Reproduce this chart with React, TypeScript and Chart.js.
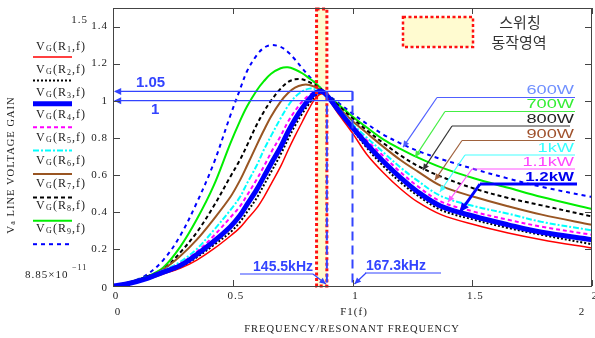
import React, { useEffect, useRef } from 'react';
import { Chart, registerables } from 'chart.js';
Chart.register(...registerables);

// ---------- data ----------
const xRatio = [0, 0.07, 0.14, 0.21, 0.28, 0.35, 0.42, 0.49, 0.53, 0.56, 0.6, 0.63, 0.66, 0.7, 0.73, 0.76, 0.79, 0.82, 0.85, 0.88, 0.94, 1.0, 1.06, 1.13, 1.2, 1.27, 1.37, 1.51, 1.65, 1.79, 2.0];
const gainR1 = [0, 0.015, 0.035, 0.065, 0.095, 0.14, 0.2, 0.27, 0.315, 0.36, 0.42, 0.48, 0.55, 0.645, 0.73, 0.81, 0.885, 0.96, 1.02, 1.035, 0.93, 0.825, 0.71, 0.61, 0.525, 0.455, 0.385, 0.33, 0.286, 0.25, 0.205];
const gainR2 = [0, 0.015, 0.04, 0.07, 0.1, 0.155, 0.22, 0.29, 0.345, 0.4, 0.475, 0.545, 0.615, 0.71, 0.79, 0.865, 0.93, 0.985, 1.03, 1.04, 0.945, 0.845, 0.745, 0.645, 0.56, 0.49, 0.41, 0.357, 0.313, 0.276, 0.225];
const gainR3 = [0, 0.015, 0.04, 0.075, 0.11, 0.17, 0.24, 0.32, 0.38, 0.44, 0.52, 0.59, 0.66, 0.75, 0.83, 0.9, 0.96, 1.01, 1.045, 1.045, 0.95, 0.855, 0.765, 0.67, 0.585, 0.51, 0.43, 0.375, 0.33, 0.29, 0.25];
const gainR4 = [0, 0.015, 0.04, 0.08, 0.12, 0.185, 0.27, 0.37, 0.43, 0.49, 0.575, 0.645, 0.72, 0.81, 0.885, 0.945, 0.995, 1.03, 1.05, 1.045, 0.955, 0.865, 0.785, 0.7, 0.615, 0.54, 0.455, 0.4, 0.357, 0.32, 0.276];
const gainR5 = [0, 0.015, 0.045, 0.085, 0.13, 0.2, 0.3, 0.41, 0.48, 0.555, 0.65, 0.735, 0.81, 0.905, 0.97, 1.02, 1.05, 1.065, 1.06, 1.045, 0.96, 0.875, 0.8, 0.72, 0.64, 0.57, 0.485, 0.43, 0.39, 0.346, 0.3];
const gainR6 = [0, 0.02, 0.045, 0.09, 0.16, 0.25, 0.36, 0.48, 0.57, 0.65, 0.76, 0.84, 0.915, 0.995, 1.04, 1.07, 1.085, 1.085, 1.07, 1.045, 0.965, 0.89, 0.825, 0.75, 0.68, 0.62, 0.54, 0.48, 0.43, 0.385, 0.33];
const gainR7 = [0, 0.02, 0.05, 0.09, 0.18, 0.29, 0.43, 0.59, 0.68, 0.76, 0.87, 0.94, 1.0, 1.065, 1.1, 1.115, 1.115, 1.1, 1.08, 1.05, 0.975, 0.905, 0.84, 0.77, 0.705, 0.65, 0.59, 0.525, 0.475, 0.435, 0.375];
const gainR8 = [0, 0.02, 0.05, 0.1, 0.21, 0.36, 0.54, 0.77, 0.89, 0.97, 1.055, 1.105, 1.145, 1.175, 1.18, 1.168, 1.148, 1.12, 1.09, 1.05, 0.98, 0.915, 0.855, 0.79, 0.74, 0.695, 0.64, 0.58, 0.53, 0.48, 0.415];
const gainR9 = [0, 0.02, 0.06, 0.14, 0.27, 0.45, 0.66, 0.92, 1.06, 1.16, 1.245, 1.285, 1.3, 1.29, 1.263, 1.222, 1.175, 1.13, 1.09, 1.05, 0.99, 0.93, 0.875, 0.816, 0.77, 0.73, 0.685, 0.63, 0.58, 0.535, 0.48];
const seriesGains = [gainR1, gainR2, gainR3, gainR4, gainR5, gainR6, gainR7, gainR8, gainR9];
const seriesIndex = ['1', '2', '3', '4', '5', '6', '7', '8', '9'];

const xTicks = [0, 0.5, 1, 1.5, 2];
const xTickLabels = ['0', '0.5', '1', '1.5', '2'];
const yTicks = [0, 0.2, 0.4, 0.6, 0.8, 1, 1.2, 1.4];
const yTickLabels = ['0', '0.2', '0.4', '0.6', '0.8', '1', '1.2', '1.4'];

const switchBand = [0.85, 0.893];
const gainRefs = [1.05, 1];
const gainRefLabels = ['1.05', '1'];
const freqMarks = [0.893, 1.0];
const freqLabels = ['145.5kHz', '167.3kHz'];

const powerLabels = ['600W', '700W', '800W', '900W', '1kW', '1.1kW', '1.2kW'];
const powerTipX = [1.211, 1.261, 1.294, 1.344, 1.365, 1.399, 1.449];
const powerTipY = [0.749, 0.695, 0.625, 0.571, 0.507, 0.453, 0.399];

// ---------- styles ----------
const seriesStyles = [
  { color: '#ff0000', width: 1.5, dash: [] as number[] },
  { color: '#000000', width: 2, dash: [2, 2] },
  { color: '#0000ff', width: 5, dash: [] },
  { color: '#ff00ff', width: 2, dash: [4, 3] },
  { color: '#00ffff', width: 2, dash: [6, 2, 2, 2] },
  { color: '#995522', width: 2, dash: [] },
  { color: '#000000', width: 2, dash: [4, 3] },
  { color: '#00ee00', width: 2, dash: [] },
  { color: '#0000ff', width: 2, dash: [4, 4] },
];
const powerText = ['#7090ff', '#33ee33', '#222222', '#a0522d', '#33ffff', '#ff44ff', '#0000ee'];
const powerLine = ['#5060ff', '#44ee44', '#333333', '#a0623d', '#44ffff', '#ff55ff', '#0000ff'];
const powerLayout = [
  { ty: 90, ly: 97.5, lx: 437, rx: 575 },
  { ty: 104, ly: 111.5, lx: 445, rx: 575 },
  { ty: 119.5, ly: 126, lx: 452, rx: 570 },
  { ty: 134, ly: 140.5, lx: 462, rx: 575 },
  { ty: 148, ly: 155, lx: 465, rx: 575 },
  { ty: 162, ly: 169, lx: 472, rx: 575 },
  { ty: 177, ly: 184, lx: 480, rx: 577 },
];
const BLUE = '#3344ff';
const SERIF = '"Liberation Serif", "DejaVu Serif", serif';
const SANS = '"Liberation Sans", Arial, sans-serif';

function arrowHead(ctx: CanvasRenderingContext2D, x1: number, y1: number, x2: number, y2: number, size: number, color: string) {
  const a = Math.atan2(y2 - y1, x2 - x1);
  ctx.fillStyle = color;
  ctx.beginPath();
  ctx.moveTo(x2, y2);
  ctx.lineTo(x2 - size * Math.cos(a - 0.45), y2 - size * Math.sin(a - 0.45));
  ctx.lineTo(x2 - size * Math.cos(a + 0.45), y2 - size * Math.sin(a + 0.45));
  ctx.closePath();
  ctx.fill();
}

function arrow(ctx: CanvasRenderingContext2D, x1: number, y1: number, x2: number, y2: number, color: string, w: number, size: number) {
  ctx.save();
  ctx.setLineDash([]);
  ctx.strokeStyle = color;
  ctx.lineWidth = w;
  ctx.beginPath();
  ctx.moveTo(x1, y1);
  ctx.lineTo(x2, y2);
  ctx.stroke();
  arrowHead(ctx, x1, y1, x2, y2, size, color);
  ctx.restore();
}

const bgPlugin = {
  id: 'bgBand',
  beforeDatasetsDraw(chart: any) {
    const { ctx, chartArea, scales } = chart;
    const x0 = scales.x.getPixelForValue(switchBand[0]);
    const x1 = scales.x.getPixelForValue(switchBand[1]);
    ctx.save();
    ctx.fillStyle = '#fffbd0';
    ctx.fillRect(x0, chartArea.top, x1 - x0, chartArea.bottom - chartArea.top);
    ctx.restore();
  },
};

const fgPlugin = {
  id: 'fgDecor',
  afterDatasetsDraw(chart: any) {
    const { ctx, chartArea, scales } = chart;
    const xs = scales.x, ys = scales.y;
    const L = chartArea.left, R = chartArea.right, T = chartArea.top, B = chartArea.bottom;
    ctx.save();

    // switching band border
    const bx0 = xs.getPixelForValue(switchBand[0]);
    const bx1 = xs.getPixelForValue(switchBand[1]);
    ctx.strokeStyle = '#ff1111';
    ctx.lineWidth = 3;
    ctx.setLineDash([3, 2.5]);
    ctx.strokeRect(bx0, T + 1, bx1 - bx0, B - T - 1);

    // reference gain lines
    const xEnd = xs.getPixelForValue(freqMarks[1]);
    ctx.setLineDash([]);
    gainRefs.forEach((g) => {
      const y = ys.getPixelForValue(g);
      ctx.strokeStyle = BLUE;
      ctx.lineWidth = 1.2;
      ctx.beginPath();
      ctx.moveTo(L + 2, y);
      ctx.lineTo(xEnd, y);
      ctx.stroke();
      arrowHead(ctx, xEnd, y, L + 1, y, 8, BLUE);
    });
    const yTop = ys.getPixelForValue(gainRefs[0]);
    ctx.strokeStyle = BLUE;
    ctx.lineWidth = 1.5;
    ctx.beginPath();
    ctx.moveTo(xEnd, yTop);
    ctx.lineTo(xEnd, ys.getPixelForValue(gainRefs[1]));
    ctx.stroke();
    // frequency verticals
    ctx.lineWidth = 2;
    ctx.setLineDash([9, 5]);
    freqMarks.forEach((f) => {
      const x = xs.getPixelForValue(f);
      ctx.beginPath();
      ctx.moveTo(x, yTop);
      ctx.lineTo(x, B);
      ctx.stroke();
    });
    ctx.setLineDash([]);

    // gain labels
    ctx.fillStyle = BLUE;
    ctx.font = `bold 15px ${SANS}`;
    ctx.textBaseline = 'middle';
    ctx.textAlign = 'left';
    ctx.fillText(gainRefLabels[0], 136, yTop - 9);
    ctx.fillText(gainRefLabels[1], 151, ys.getPixelForValue(gainRefs[1]) + 9);

    // freq labels
    ctx.font = `bold 14px ${SANS}`;
    const fx0 = xs.getPixelForValue(freqMarks[0]);
    const fx1 = xs.getPixelForValue(freqMarks[1]);
    ctx.textAlign = 'right';
    ctx.fillText(freqLabels[0], 313, 267);
    ctx.textAlign = 'left';
    ctx.fillText(freqLabels[1], 366, 266);
    ctx.strokeStyle = BLUE;
    ctx.lineWidth = 1.2;
    ctx.beginPath();
    ctx.moveTo(240, 274); ctx.lineTo(313, 274);
    ctx.moveTo(365, 273); ctx.lineTo(441, 273);
    ctx.stroke();
    arrow(ctx, 313, 274, fx0 - 1, B - 2, BLUE, 1.2, 7);
    arrow(ctx, 366, 273, fx1 + 2, B - 2, BLUE, 1.2, 7);

    // power labels with pointers
    powerLabels.forEach((lab, i) => {
      const lay = powerLayout[i];
      const tx = xs.getPixelForValue(powerTipX[i]);
      const ty = ys.getPixelForValue(powerTipY[i]);
      const w = i === 6 ? 3 : 1.2;
      ctx.strokeStyle = powerLine[i];
      ctx.lineWidth = w;
      ctx.beginPath();
      ctx.moveTo(lay.rx, lay.ly);
      ctx.lineTo(lay.lx, lay.ly);
      ctx.stroke();
      arrow(ctx, lay.lx, lay.ly, tx, ty, powerLine[i], w, i === 6 ? 10 : 7);
      ctx.save();
      ctx.translate(574, lay.ty);
      const bold = i === 6;
      ctx.scale(bold ? 1.3 : 1.4, 1);
      ctx.font = `${bold ? 'bold ' : ''}13px ${SANS}`;
      ctx.fillStyle = powerText[i];
      ctx.textAlign = 'right';
      ctx.textBaseline = 'middle';
      ctx.fillText(lab, 0, 0);
      ctx.restore();
    });

    // frame
    ctx.strokeStyle = '#444';
    ctx.lineWidth = 1;
    ctx.strokeRect(L + 0.5, T + 0.5, R - L - 1, B - T);
    // inward ticks
    ctx.beginPath();
    yTicks.forEach((v) => {
      const y = Math.round(ys.getPixelForValue(v)) + 0.5;
      ctx.moveTo(L, y); ctx.lineTo(L + 7, y);
      ctx.moveTo(R, y); ctx.lineTo(R - 7, y);
    });
    xTicks.forEach((v) => {
      const x = Math.round(xs.getPixelForValue(v)) + 0.5;
      ctx.moveTo(x, B); ctx.lineTo(x, B - 6);
      ctx.moveTo(x, T); ctx.lineTo(x, T + 6);
    });
    ctx.stroke();

    // tick labels
    ctx.fillStyle = '#222';
    ctx.font = `11px ${SERIF}`;
    (ctx as any).letterSpacing = '1px';
    ctx.textAlign = 'right';
    ctx.textBaseline = 'middle';
    yTicks.forEach((v, i) => {
      const y = ys.getPixelForValue(v) + (v === 0 ? 2 : 0);
      ctx.fillText(yTickLabels[i], 108, y);
    });
    ctx.fillText('1.5', 88, 20);
    ctx.textAlign = 'left';
    ctx.fillText('8.85\u00d710', 25, 275);
    ctx.font = `8px ${SERIF}`;
    ctx.fillText('\u221211', 72, 268);
    ctx.font = `11px ${SERIF}`;
    ctx.textAlign = 'center';
    xTicks.forEach((v, i) => {
      ctx.fillText(xTickLabels[i], xs.getPixelForValue(v) + 3, 296);
    });
    ctx.fillText('0', 118, 312);
    ctx.fillText('2', 582, 312);
    ctx.fillText('F1(f)', 354, 312);
    ctx.font = `10.5px ${SERIF}`;
    ctx.fillText('FREQUENCY/RESONANT FREQUENCY', 352, 329);

    // y title
    ctx.save();
    ctx.translate(11, 165);
    ctx.rotate(-Math.PI / 2);
    ctx.textAlign = 'left';
    const t1 = 'V';
    const t2 = 'a';
    const t3 = ' LINE VOLTAGE GAIN';
    ctx.font = `11px ${SERIF}`;
    const w1 = ctx.measureText(t1).width;
    ctx.font = `8px ${SERIF}`;
    const w2 = ctx.measureText(t2).width;
    ctx.font = `10.5px ${SERIF}`;
    const w3 = ctx.measureText(t3).width;
    let sx = -(w1 + w2 + w3) / 2;
    ctx.font = `11px ${SERIF}`;
    ctx.fillText(t1, sx, 0); sx += w1;
    ctx.font = `8px ${SERIF}`;
    ctx.fillText(t2, sx, 2); sx += w2;
    ctx.font = `10.5px ${SERIF}`;
    ctx.fillText(t3, sx, 0);
    ctx.restore();

    // left legend
    seriesIndex.forEach((n, i) => {
      const ly = 47 + i * 22.75;
      const sy = 57 + i * 23.4;
      ctx.fillStyle = '#222';
      ctx.textAlign = 'left';
      ctx.textBaseline = 'middle';
      ctx.font = `12px ${SERIF}`;
      ctx.fillText('V', 36, ly);
      ctx.font = `8px ${SERIF}`;
      ctx.fillText('G', 46, ly + 2);
      ctx.font = `12px ${SERIF}`;
      ctx.fillText('(R', 53, ly);
      ctx.font = `8px ${SERIF}`;
      ctx.fillText(n, 67, ly + 3);
      ctx.font = `12px ${SERIF}`;
      ctx.fillText(',f)', 72, ly);
      const st = seriesStyles[i];
      ctx.strokeStyle = st.color;
      ctx.lineWidth = st.width;
      ctx.setLineDash(st.dash);
      ctx.beginPath();
      ctx.moveTo(33, sy);
      ctx.lineTo(72, sy);
      ctx.stroke();
    });
    ctx.setLineDash([]);
    (ctx as any).letterSpacing = '0px';

    // switching legend box
    ctx.fillStyle = '#fffbd0';
    ctx.fillRect(403, 17, 70, 30);
    ctx.strokeStyle = '#ff1111';
    ctx.lineWidth = 2.5;
    ctx.setLineDash([3, 2.5]);
    ctx.strokeRect(403, 17, 70, 30);
    ctx.setLineDash([]);
    ctx.fillStyle = '#333';
    ctx.font = `15px "Noto Sans CJK KR", sans-serif`;
    ctx.textAlign = 'center';
    ctx.textBaseline = 'middle';
    ctx.fillText('스위칭', 520, 22);
    ctx.fillText('동작영역', 519, 42);

    ctx.restore();
  },
};

export default function App() {
  const ref = useRef<HTMLCanvasElement>(null);
  useEffect(() => {
    const canvas = ref.current!;
    const chart = new Chart(canvas, {
      type: 'line',
      data: {
        datasets: seriesGains.map((g, i) => ({
          label: 'V_G(R' + seriesIndex[i] + ',f)',
          data: xRatio.map((x, k) => ({ x, y: g[k] })),
          borderColor: seriesStyles[i].color,
          borderWidth: seriesStyles[i].width,
          borderDash: seriesStyles[i].dash,
          pointRadius: 0,
          fill: false,
          tension: 0.35,
          order: i === 2 ? 0 : 1,
        })),
      },
      options: {
        animation: false,
        responsive: false,
        maintainAspectRatio: false,
        layout: { padding: { left: 113, right: 3, top: 8, bottom: 52 } },
        plugins: { legend: { display: false }, tooltip: { enabled: false } },
        scales: {
          x: { type: 'linear', min: 0, max: 2, display: false },
          y: { type: 'linear', min: 0, max: 1.5, display: false },
        },
      },
      plugins: [bgPlugin, fgPlugin],
    } as any);
    return () => chart.destroy();
  }, []);
  return (
    <div style={{ position: 'fixed', left: 0, top: 0, width: 595, height: 338, background: '#fff' }}>
      <canvas ref={ref} width={595} height={338} style={{ width: 595, height: 338, display: 'block' }} />
    </div>
  );
}
